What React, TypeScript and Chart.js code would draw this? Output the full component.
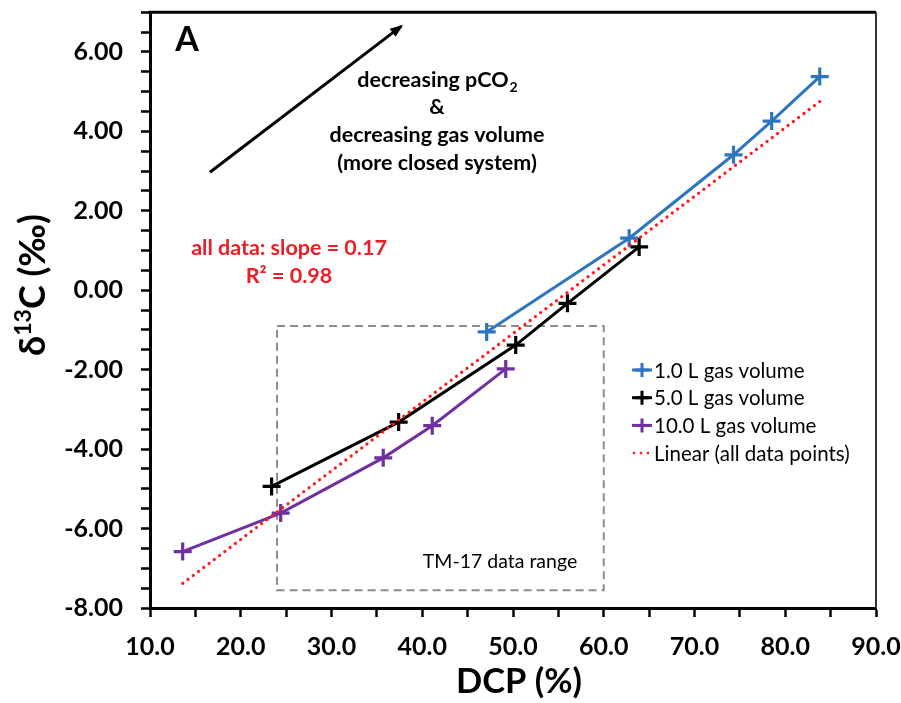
import React, { useEffect, useRef } from 'react';
import { Chart, registerables } from 'chart.js';
Chart.register(...registerables);

const blueX = [47.1, 62.8, 74.3, 78.5, 83.8];
const blueY = [-1.05, 1.31, 3.41, 4.26, 5.38];
const blackX = [23.4, 37.4, 50.3, 56.0, 63.9];
const blackY = [-4.94, -3.32, -1.38, -0.33, 1.09];
const purpleX = [13.6, 24.4, 35.7, 41.1, 49.2];
const purpleY = [-6.58, -5.61, -4.22, -3.41, -1.98];
const trendX = [13.6, 83.8];
const trendY = [-7.38, 4.75];
const boxX = [24.0, 60.0, 60.0, 24.0, 24.0];
const boxY = [-0.9, -0.9, -7.55, -7.55, -0.9];
const arrowX = [16.6, 37.7];
const arrowY = [2.97, 6.65];
const seriesNames = ['1.0 L gas volume', '5.0 L gas volume', '10.0 L gas volume', 'Linear (all data points)'];
const seriesColors = ['#2e75c0', '#000000', '#7030a0', '#ff1a1a'];
const xTicksMin = 10, xTicksMax = 90, xStep = 5;
const yTicksMin = -8, yTicksMax = 7, yStep = 0.5;

const FONT = 'Lato, "Open Sans", sans-serif';

const pts = (xs: number[], ys: number[]) => xs.map((x, i) => ({ x, y: ys[i] }));

function drawPlus(ctx: CanvasRenderingContext2D, x: number, y: number, r: number, color: string) {
  ctx.save();
  ctx.strokeStyle = color;
  ctx.lineWidth = 3;
  ctx.beginPath();
  ctx.moveTo(x - r, y); ctx.lineTo(x + r, y);
  ctx.moveTo(x, y - r); ctx.lineTo(x, y + r);
  ctx.stroke();
  ctx.restore();
}

const overlay = {
  id: 'overlay',
  afterDatasetsDraw(chart: any) {
    const ctx: CanvasRenderingContext2D = chart.ctx;
    const { left, right, top, bottom } = chart.chartArea;
    const xs = chart.scales.x, ys = chart.scales.y;
    ctx.save();
    // frame top & right
    ctx.strokeStyle = '#000';
    ctx.lineWidth = 3;
    ctx.beginPath(); ctx.moveTo(left - 1.5, top); ctx.lineTo(right, top); ctx.stroke();
    ctx.strokeStyle = '#333';
    ctx.lineWidth = 2;
    ctx.beginPath(); ctx.moveTo(right, top); ctx.lineTo(right, bottom); ctx.stroke();

    // arrowhead
    const ax0 = xs.getPixelForValue(arrowX[0]), ay0 = ys.getPixelForValue(arrowY[0]);
    const ax1 = xs.getPixelForValue(arrowX[1]), ay1 = ys.getPixelForValue(arrowY[1]);
    const ang = Math.atan2(ay1 - ay0, ax1 - ax0);
    ctx.fillStyle = '#000';
    ctx.beginPath();
    const L = 11, W = 5;
    ctx.moveTo(ax1 + 2 * Math.cos(ang), ay1 + 2 * Math.sin(ang));
    ctx.lineTo(ax1 - L * Math.cos(ang) + W * Math.sin(ang), ay1 - L * Math.sin(ang) - W * Math.cos(ang));
    ctx.lineTo(ax1 - L * Math.cos(ang) - W * Math.sin(ang), ay1 - L * Math.sin(ang) + W * Math.cos(ang));
    ctx.closePath();
    ctx.fill();

    // Panel letter
    ctx.fillStyle = '#000';
    ctx.textAlign = 'center';
    ctx.textBaseline = 'middle';
    ctx.font = `bold 34px ${FONT}`;
    ctx.fillText('A', 187, 40);

    // Annotation block
    const F = 21.5;
    const cx = 437;
    {
      const main = 'decreasing pCO';
      ctx.font = `bold ${F}px ${FONT}`;
      const w1 = ctx.measureText(main).width;
      ctx.font = `bold 14px ${FONT}`;
      const w2 = ctx.measureText('2').width;
      const sx = cx - (w1 + w2) / 2;
      ctx.textAlign = 'left';
      ctx.font = `bold ${F}px ${FONT}`;
      ctx.fillText(main, sx, 80);
      ctx.font = `bold 14px ${FONT}`;
      ctx.fillText('2', sx + w1 + 1, 87);
    }
    ctx.textAlign = 'center';
    ctx.font = `bold ${F}px ${FONT}`;
    ctx.fillText('&', cx, 107);
    ctx.fillText('decreasing gas volume', cx, 135);
    ctx.fillText('(more closed system)', cx, 163);

    // red stats
    ctx.fillStyle = '#ee1c24';
    ctx.fillText('all data: slope = 0.17', 289, 248);
    ctx.fillText('R\u00B2 = 0.98', 289, 276);

    // TM-17
    ctx.fillStyle = '#000';
    ctx.font = `19.5px ${FONT}`;
    ctx.fillText('TM-17 data range', 500, 562);

    // Legend
    ctx.textAlign = 'left';
    ctx.font = `20.5px ${FONT}`;
    seriesNames.forEach((name, i) => {
      const y = 370 + i * 27.7;
      const c = seriesColors[i];
      if (i < 3) {
        ctx.strokeStyle = c;
        ctx.lineWidth = 3;
        ctx.beginPath(); ctx.moveTo(632, y); ctx.lineTo(652, y); ctx.stroke();
        drawPlus(ctx, 642, y, 7, c);
      } else {
        ctx.fillStyle = c;
        [634, 641, 648].forEach((dx) => { ctx.beginPath(); ctx.arc(dx, y, 1.4, 0, Math.PI * 2); ctx.fill(); });
      }
      ctx.fillStyle = '#000';
      ctx.fillText(name, 654, y + 1);
    });

    // Axis titles
    ctx.fillStyle = '#000';
    ctx.font = `bold 34.5px ${FONT}`;
    ctx.textAlign = 'center';
    ctx.fillText('DCP (%)', 519, 682);

    ctx.save();
    ctx.translate(33, 285);
    ctx.rotate(-Math.PI / 2);
    const p1 = '\u03B4', p2 = '13', p3 = 'C (\u2030)';
    ctx.font = `bold 36px ${FONT}`;
    const w1 = ctx.measureText(p1).width, w3 = ctx.measureText(p3).width;
    ctx.font = `bold 23px ${FONT}`;
    const w2 = ctx.measureText(p2).width;
    let sx = -(w1 + w2 + w3) / 2;
    ctx.textAlign = 'left';
    ctx.font = `bold 36px ${FONT}`;
    ctx.fillText(p1, sx, 0); sx += w1;
    ctx.font = `bold 23px ${FONT}`;
    ctx.fillText(p2, sx, -9); sx += w2;
    ctx.font = `bold 36px ${FONT}`;
    ctx.fillText(p3, sx, 0);
    ctx.restore();

    ctx.restore();
  },
};

export default function App() {
  const ref = useRef<HTMLCanvasElement>(null);
  useEffect(() => {
    document.body.style.margin = '0';
    const canvas = ref.current!;
    const common = { pointStyle: 'cross', pointRadius: 9, pointBorderWidth: 3.2, borderWidth: 3, showLine: true, fill: false, tension: 0 };
    const chart = new Chart(canvas, {
      type: 'scatter',
      data: {
        datasets: [
          { label: seriesNames[3], data: pts(trendX, trendY), showLine: true, borderColor: seriesColors[3], borderWidth: 3.2, borderDash: [0.1, 6.5], borderCapStyle: 'round', pointRadius: 0, order: 0 } as any,
          { label: seriesNames[0], data: pts(blueX, blueY), borderColor: seriesColors[0], backgroundColor: seriesColors[0], pointBorderColor: seriesColors[0], ...common, order: 1 },
          { label: seriesNames[1], data: pts(blackX, blackY), borderColor: seriesColors[1], backgroundColor: seriesColors[1], pointBorderColor: seriesColors[1], ...common, order: 2 },
          { label: seriesNames[2], data: pts(purpleX, purpleY), borderColor: seriesColors[2], backgroundColor: seriesColors[2], pointBorderColor: seriesColors[2], ...common, order: 3 },
          { label: 'box', data: pts(boxX, boxY), showLine: true, borderColor: '#8c8c8c', borderWidth: 2, borderDash: [8, 5], pointRadius: 0, order: 4 },
          { label: 'arrow', data: pts(arrowX, arrowY), showLine: true, borderColor: '#000', borderWidth: 3, pointRadius: 0, order: 5 },
        ],
      },
      options: {
        animation: false,
        responsive: true,
        maintainAspectRatio: false,
        layout: { padding: { top: 8, right: 25, left: 0, bottom: 0 } },
        plugins: { legend: { display: false }, tooltip: { enabled: false } },
        scales: {
          x: {
            type: 'linear',
            min: xTicksMin,
            max: xTicksMax,
            afterFit: (s: any) => { s.height = 95; s.paddingLeft = 0; s.paddingRight = 0; },
            ticks: {
              stepSize: xStep,
              autoSkip: false,
              maxRotation: 0,
              padding: 15,
              color: '#000',
              font: { family: FONT, size: 25, weight: 'bold' },
              callback: (v: any) => (Math.abs(v % 10) < 1e-6 ? Number(v).toFixed(1) : ''),
            },
            grid: { drawOnChartArea: false, drawTicks: true, tickLength: 9, tickColor: '#000', tickWidth: 2.5 },
            border: { display: true, color: '#000', width: 3 },
          },
          y: {
            type: 'linear',
            min: yTicksMin,
            max: yTicksMax,
            afterFit: (s: any) => { s.width = 150; s.paddingTop = 0; s.paddingBottom = 0; },
            ticks: {
              stepSize: yStep,
              autoSkip: false,
              padding: 18,
              color: '#000',
              font: { family: FONT, size: 25, weight: 'bold' },
              callback: (v: any) => (Math.abs(v % 2) < 1e-6 ? Number(v).toFixed(2) : ''),
            },
            grid: { drawOnChartArea: false, drawTicks: true, tickLength: 9, tickColor: '#000', tickWidth: 2.5 },
            border: { display: true, color: '#000', width: 3 },
          },
        },
      },
      plugins: [overlay],
    } as any);
    return () => chart.destroy();
  }, []);
  return (
    <div style={{ position: 'relative', width: 901, height: 703 }}>
      <canvas ref={ref} />
    </div>
  );
}
